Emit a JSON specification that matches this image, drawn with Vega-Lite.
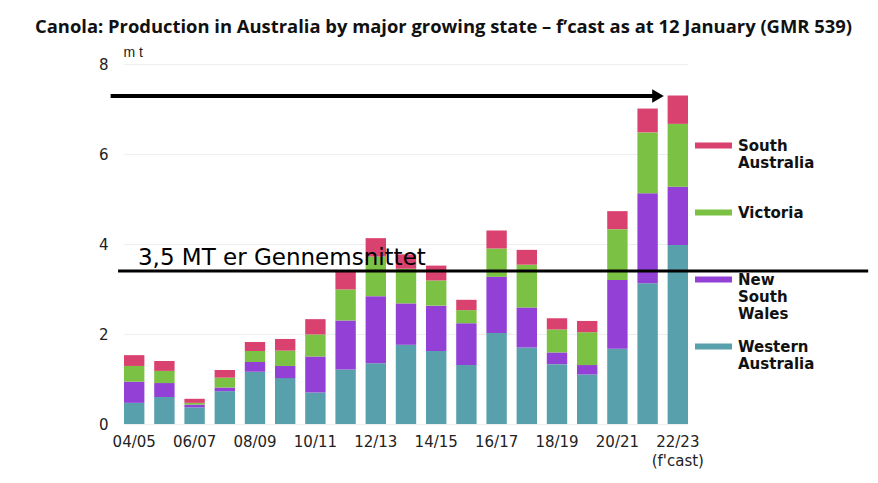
{
  "$schema": "https://vega.github.io/schema/vega-lite/v6.json",
  "autosize": {"type": "none"},
  "width": 564,
  "height": 360,
  "padding": {"left": 124, "top": 64, "right": 190, "bottom": 59},
  "background": "#ffffff",
  "title": {
    "text": "Canola: Production in Australia by major growing state – f’cast as at 12 January (GMR 539)",
    "anchor": "start",
    "frame": "group",
    "dx": -89,
    "font": "Open Sans",
    "fontSize": 18.4,
    "fontWeight": "bold",
    "color": "#111111",
    "offset": 9
  },
  "layer": [
    {
      "data": {
        "values": [
          {"s": "04/05", "state": "Western Australia", "v": 0.47}, {"s": "04/05", "state": "New South Wales", "v": 0.47}, {"s": "04/05", "state": "Victoria", "v": 0.35}, {"s": "04/05", "state": "South Australia", "v": 0.24},
          {"s": "05/06", "state": "Western Australia", "v": 0.60}, {"s": "05/06", "state": "New South Wales", "v": 0.31}, {"s": "05/06", "state": "Victoria", "v": 0.27}, {"s": "05/06", "state": "South Australia", "v": 0.22},
          {"s": "06/07", "state": "Western Australia", "v": 0.37}, {"s": "06/07", "state": "New South Wales", "v": 0.06}, {"s": "06/07", "state": "Victoria", "v": 0.04}, {"s": "06/07", "state": "South Australia", "v": 0.09},
          {"s": "07/08", "state": "Western Australia", "v": 0.73}, {"s": "07/08", "state": "New South Wales", "v": 0.08}, {"s": "07/08", "state": "Victoria", "v": 0.22}, {"s": "07/08", "state": "South Australia", "v": 0.17},
          {"s": "08/09", "state": "Western Australia", "v": 1.16}, {"s": "08/09", "state": "New South Wales", "v": 0.22}, {"s": "08/09", "state": "Victoria", "v": 0.24}, {"s": "08/09", "state": "South Australia", "v": 0.20},
          {"s": "09/10", "state": "Western Australia", "v": 1.02}, {"s": "09/10", "state": "New South Wales", "v": 0.27}, {"s": "09/10", "state": "Victoria", "v": 0.34}, {"s": "09/10", "state": "South Australia", "v": 0.26},
          {"s": "10/11", "state": "Western Australia", "v": 0.70}, {"s": "10/11", "state": "New South Wales", "v": 0.80}, {"s": "10/11", "state": "Victoria", "v": 0.49}, {"s": "10/11", "state": "South Australia", "v": 0.34},
          {"s": "11/12", "state": "Western Australia", "v": 1.21}, {"s": "11/12", "state": "New South Wales", "v": 1.09}, {"s": "11/12", "state": "Victoria", "v": 0.69}, {"s": "11/12", "state": "South Australia", "v": 0.42},
          {"s": "12/13", "state": "Western Australia", "v": 1.35}, {"s": "12/13", "state": "New South Wales", "v": 1.49}, {"s": "12/13", "state": "Victoria", "v": 0.88}, {"s": "12/13", "state": "South Australia", "v": 0.41},
          {"s": "13/14", "state": "Western Australia", "v": 1.76}, {"s": "13/14", "state": "New South Wales", "v": 0.92}, {"s": "13/14", "state": "Victoria", "v": 0.77}, {"s": "13/14", "state": "South Australia", "v": 0.32},
          {"s": "14/15", "state": "Western Australia", "v": 1.62}, {"s": "14/15", "state": "New South Wales", "v": 1.01}, {"s": "14/15", "state": "Victoria", "v": 0.56}, {"s": "14/15", "state": "South Australia", "v": 0.33},
          {"s": "15/16", "state": "Western Australia", "v": 1.31}, {"s": "15/16", "state": "New South Wales", "v": 0.93}, {"s": "15/16", "state": "Victoria", "v": 0.29}, {"s": "15/16", "state": "South Australia", "v": 0.23},
          {"s": "16/17", "state": "Western Australia", "v": 2.02}, {"s": "16/17", "state": "New South Wales", "v": 1.25}, {"s": "16/17", "state": "Victoria", "v": 0.63}, {"s": "16/17", "state": "South Australia", "v": 0.40},
          {"s": "17/18", "state": "Western Australia", "v": 1.70}, {"s": "17/18", "state": "New South Wales", "v": 0.89}, {"s": "17/18", "state": "Victoria", "v": 0.95}, {"s": "17/18", "state": "South Australia", "v": 0.33},
          {"s": "18/19", "state": "Western Australia", "v": 1.33}, {"s": "18/19", "state": "New South Wales", "v": 0.26}, {"s": "18/19", "state": "Victoria", "v": 0.51}, {"s": "18/19", "state": "South Australia", "v": 0.25},
          {"s": "19/20", "state": "Western Australia", "v": 1.10}, {"s": "19/20", "state": "New South Wales", "v": 0.21}, {"s": "19/20", "state": "Victoria", "v": 0.73}, {"s": "19/20", "state": "South Australia", "v": 0.25},
          {"s": "20/21", "state": "Western Australia", "v": 1.67}, {"s": "20/21", "state": "New South Wales", "v": 1.53}, {"s": "20/21", "state": "Victoria", "v": 1.13}, {"s": "20/21", "state": "South Australia", "v": 0.40},
          {"s": "21/22", "state": "Western Australia", "v": 3.13}, {"s": "21/22", "state": "New South Wales", "v": 2.00}, {"s": "21/22", "state": "Victoria", "v": 1.35}, {"s": "21/22", "state": "South Australia", "v": 0.53},
          {"s": "22/23", "state": "Western Australia", "v": 3.98}, {"s": "22/23", "state": "New South Wales", "v": 1.29}, {"s": "22/23", "state": "Victoria", "v": 1.40}, {"s": "22/23", "state": "South Australia", "v": 0.63}
        ]
      },
      "transform": [
        {"calculate": "indexof(['Western Australia','New South Wales','Victoria','South Australia'], datum.state)", "as": "o"}
      ],
      "mark": {"type": "bar"},
      "encoding": {
        "x": {
          "field": "s", "type": "nominal", "sort": null,
          "scale": {"paddingInner": 0.325, "paddingOuter": 0},
          "axis": {
            "title": null,
            "values": ["04/05", "06/07", "08/09", "10/11", "12/13", "14/15", "16/17", "18/19", "20/21", "22/23"],
            "labelExpr": "datum.value == '22/23' ? ['22/23', '(f\\'cast)'] : datum.label"
          }
        },
        "y": {
          "field": "v", "type": "quantitative", "stack": "zero",
          "scale": {"domain": [0, 8], "nice": false},
          "title": "m t",
          "axis": {"values": [0, 2, 4, 6, 8]}
        },
        "color": {
          "field": "state", "type": "nominal",
          "scale": {
            "domain": ["South Australia", "Victoria", "New South Wales", "Western Australia"],
            "range": ["#D9426F", "#7BC143", "#9340D7", "#57A0AC"]
          },
          "legend": {
            "orient": "none",
            "legendX": 571,
            "legendY": 63,
            "title": null,
            "gridAlign": "all",
            "labelExpr": "split(datum.label, ' ')"
          }
        },
        "order": {"field": "o", "type": "quantitative"}
      }
    },
    {
      "encoding": {
        "x": {"field": "x", "type": "quantitative", "scale": {"domain": [0, 19], "nice": false, "zero": false}, "axis": null},
        "y": {"field": "y", "type": "quantitative", "title": "m t", "axis": {"values": [0, 2, 4, 6, 8]}}
      },
      "layer": [
        {
          "data": {"values": [{"x": -0.2, "x2": 25.07, "y": 3.40}]},
          "mark": {"type": "rule", "color": "#000000", "strokeWidth": 3},
          "encoding": {"x2": {"field": "x2"}}
        },
        {
          "data": {"values": [{"x": 0.47, "y": 3.40, "t": "3,5 MT er Gennemsnittet"}]},
          "mark": {"type": "text", "align": "left", "baseline": "alphabetic", "dy": -6, "font": "DejaVu Sans", "fontSize": 23, "color": "#000000"},
          "encoding": {"text": {"field": "t"}}
        },
        {
          "data": {"values": [{"x": -0.45, "x2": 17.9, "y": 7.29}]},
          "mark": {"type": "rule", "color": "#000000", "strokeWidth": 4},
          "encoding": {"x2": {"field": "x2"}}
        },
        {
          "data": {"values": [{"x": 17.99, "y": 7.29}]},
          "mark": {"type": "point", "shape": "triangle-right", "filled": true, "color": "#000000", "opacity": 1, "size": 180},
          "encoding": {}
        }
      ]
    }
  ],
  "resolve": {"scale": {"x": "independent"}},
  "config": {
    "view": {"stroke": null},
    "axis": {
      "labelFont": "DejaVu Sans",
      "labelFontSize": 15,
      "labelColor": "#222222",
      "domain": false,
      "ticks": false
    },
    "axisX": {"grid": false, "labelAngle": 0, "labelPadding": 10, "labelLineHeight": 19},
    "axisY": {
      "grid": true,
      "gridColor": "#EEEEEE",
      "labelPadding": 16,
      "titleAngle": 0,
      "titleX": -1,
      "titleY": -12,
      "titleAlign": "left",
      "titleBaseline": "middle",
      "titleFont": "Liberation Sans",
      "titleFontSize": 14,
      "titleFontWeight": "normal",
      "titleColor": "#222222"
    },
    "legend": {
      "labelFont": "DejaVu Sans",
      "labelFontWeight": "bold",
      "labelFontSize": 15,
      "labelColor": "#111111",
      "symbolType": "M-1,-0.16H1V0.16H-1Z",
      "symbolSize": 1369,
      "symbolStrokeWidth": 0,
      "symbolOpacity": 1,
      "labelOffset": 6,
      "rowPadding": 6,
      "labelLimit": 200
    }
  }
}
